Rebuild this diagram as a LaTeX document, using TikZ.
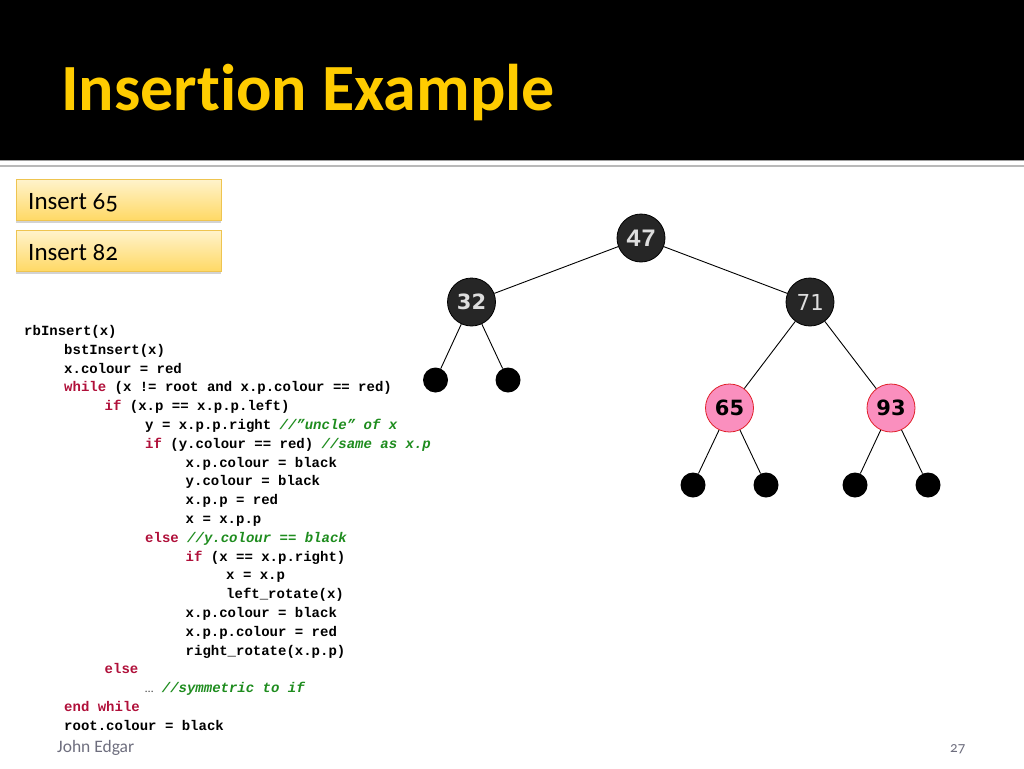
\documentclass[tikz,border=0pt]{standalone}
\usepackage{fontspec}
\setmainfont{Carlito}[Ligatures=NoCommon]
\newfontfamily\oldnum{Carlito}[Numbers=OldStyle]
\newfontfamily\codefont{Liberation Mono}
\newfontfamily\dvsans{DejaVu Sans}
\newfontfamily\dvmono{DejaVu Sans Mono}
\usetikzlibrary{shadows}
\definecolor{titleyellow}{HTML}{FFCC00}
\definecolor{kwred}{HTML}{B0103A}
\definecolor{cmgreen}{HTML}{1E8C1E}
\definecolor{nodedark}{HTML}{262626}
\definecolor{nodetext}{HTML}{DEDEDE}
\definecolor{pinkfill}{HTML}{FA8FBE}
\definecolor{pinkborder}{HTML}{E0202A}
\definecolor{boxtop}{HTML}{FFF3CC}
\definecolor{boxbot}{HTML}{FFD966}
\definecolor{boxborder}{HTML}{EEC450}
\definecolor{footgray}{HTML}{6E6E7E}
\newcommand{\kw}[1]{\textcolor{kwred}{#1}}
\newcommand{\cm}[1]{\textcolor{cmgreen}{\itshape #1}}
\begin{document}
\begin{tikzpicture}[x=1pt,y=1pt,
  codeline/.style={anchor=base west, inner sep=0pt, font=\codefont\bfseries\fontsize{14}{16}\selectfont},
  insertbox/.style={draw=boxborder, line width=0.8pt, top color=boxtop, bottom color=boxbot,
     minimum width=205pt, minimum height=41pt, inner sep=0pt,
     drop shadow={shadow xshift=0pt, shadow yshift=-3pt, opacity=0.35}},
  boxlabel/.style={anchor=base west, inner sep=0pt, font=\oldnum\fontsize{25}{28}\selectfont},
  blacknode/.style={circle, draw=black, line width=0.8pt, fill=nodedark, minimum size=48pt, inner sep=0pt, text=nodetext},
  rednode/.style={circle, draw=pinkborder, line width=0.8pt, fill=pinkfill, minimum size=48pt, inner sep=0pt, text=black},
  leaf/.style={circle, fill=black, minimum size=25pt, inner sep=0pt},
  edge/.style={draw=black, line width=0.9pt}
]
\useasboundingbox (0,0) rectangle (1024,-768);
% title bar
\fill[black] (0,0) rectangle (1024,-160);
\draw[gray!75, line width=1.2pt] (0,-160.8) -- (1024,-160.8);
\draw[gray!55, line width=2pt] (0,-166) -- (1024,-166);
\node[anchor=base west, inner sep=0pt, text=titleyellow, font=\bfseries\fontsize{66}{72}\selectfont] (title) at (61,-110) {Insertion Example};
% insert boxes
\node[insertbox] (b1) at (118.5,-199.5) {};
\node[insertbox] (b2) at (118.5,-250.5) {};
\node[boxlabel] (t1) at (28,-209) {Insert 65};
\node[boxlabel] (t2) at (28,-260) {Insert 82};
% code
\node[codeline] (c0) at (24,-335.5) {rbInsert(x)};
\node[codeline] (c1) at (64,-354.3) {bstInsert(x)};
\node[codeline] (c2) at (64,-373.1) {x.colour = red};
\node[codeline] (c3) at (64,-391.9) {\kw{while} (x != root and x.p.colour == red)};
\node[codeline] (c4) at (104.5,-410.7) {\kw{if} (x.p == x.p.p.left)};
\node[codeline] (c5) at (145,-429.5) {y = x.p.p.right \cm{//”uncle” of x}};
\node[codeline] (c6) at (145,-448.3) {\kw{if} (y.colour == red) \cm{//same as x.p}};
\node[codeline] (c7) at (185.5,-467.1) {x.p.colour = black};
\node[codeline] (c8) at (185.5,-485.9) {y.colour = black};
\node[codeline] (c9) at (185.5,-504.7) {x.p.p = red};
\node[codeline] (c10) at (185.5,-523.5) {x = x.p.p};
\node[codeline] (c11) at (145,-542.3) {\kw{else} \cm{//y.colour == black}};
\node[codeline] (c12) at (185.5,-561.1) {\kw{if} (x == x.p.right)};
\node[codeline] (c13) at (226,-579.9) {x = x.p};
\node[codeline] (c14) at (226,-598.7) {left\_rotate(x)};
\node[codeline] (c15) at (185.5,-617.5) {x.p.colour = black};
\node[codeline] (c16) at (185.5,-636.3) {x.p.p.colour = red};
\node[codeline] (c17) at (185.5,-655.1) {right\_rotate(x.p.p)};
\node[codeline] (c18) at (104.5,-673.9) {\kw{else}};
\node[codeline] (c19) at (145,-692.7) {{\normalfont\fontsize{12}{14}\selectfont\color{black!70}…} \cm{//symmetric to if}};
\node[codeline] (c20) at (64,-711.5) {\kw{end while}};
\node[codeline] (c21) at (64,-730.3) {root.colour = black};
% footer
\node[anchor=base west, inner sep=0pt, text=footgray, font=\fontsize{17.5}{20}\selectfont] (author) at (57,-752) {John Edgar};
\node[anchor=base west, inner sep=0pt, text=footgray, font=\oldnum\fontsize{15}{17}\selectfont] (page) at (950,-752) {27};
% tree
\node[blacknode, font=\codefont\bfseries\fontsize{25}{28}\selectfont] (n47) at (641,-238) {47};
\node[blacknode, font=\dvsans\bfseries\fontsize{21}{24}\selectfont] (n32) at (471.5,-302) {32};
\node[blacknode, font=\dvmono\fontsize{22}{24}\selectfont] (n71) at (810,-302) {71};
\node[rednode, font=\dvsans\bfseries\fontsize{21}{24}\selectfont] (n65) at (729.5,-408) {65};
\node[rednode, font=\dvsans\bfseries\fontsize{21}{24}\selectfont] (n93) at (891,-408) {93};
\node[leaf] (l1) at (435.5,-380) {};
\node[leaf] (l2) at (508,-380) {};
\node[leaf] (l3) at (693,-485) {};
\node[leaf] (l4) at (766,-485) {};
\node[leaf] (l5) at (855,-485) {};
\node[leaf] (l6) at (928,-485) {};
\draw[edge] (n47) -- (n32);
\draw[edge] (n47) -- (n71);
\draw[edge] (n32) -- (l1);
\draw[edge] (n32) -- (l2);
\draw[edge] (n71) -- (n65);
\draw[edge] (n71) -- (n93);
\draw[edge] (n65) -- (l3);
\draw[edge] (n65) -- (l4);
\draw[edge] (n93) -- (l5);
\draw[edge] (n93) -- (l6);
\end{tikzpicture}
\end{document}
